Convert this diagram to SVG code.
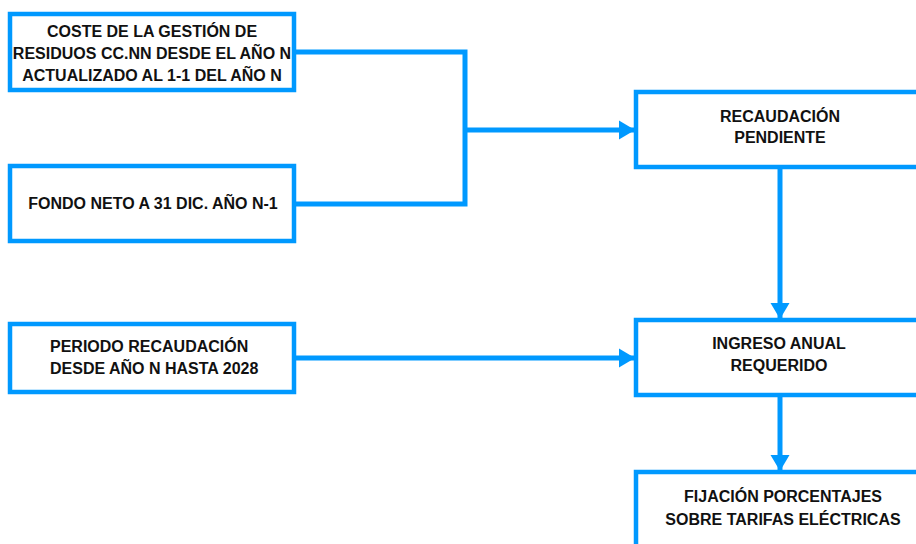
<svg xmlns="http://www.w3.org/2000/svg" width="916" height="544" viewBox="0 0 916 544">
<style>
.box{fill:#fff;stroke:#0099ff;stroke-width:4.5}
.t{font-family:"Liberation Sans",Arial,sans-serif;font-weight:bold;font-size:16px;fill:#111}
.c{text-anchor:middle}
.ln{fill:none;stroke:#0099ff;stroke-width:5}
</style>
<defs>
<marker id="ah" markerUnits="userSpaceOnUse" markerWidth="17" markerHeight="20" refX="16" refY="10" orient="auto">
<path d="M0,0.5 L16,10 L0,19.5 z" fill="#0099ff"/>
</marker>
</defs>
<rect width="916" height="544" fill="#fff"/>
<g id="connectors">
<path class="ln" d="M296,52 H465 V204 H296"/>
<path class="ln" d="M465,130 H635" marker-end="url(#ah)"/>
<path class="ln" d="M780,169 V319" marker-end="url(#ah)"/>
<path class="ln" d="M296,358 H635" marker-end="url(#ah)"/>
<path class="ln" d="M780,397 V471" marker-end="url(#ah)"/>
</g>
<g id="coste">
<rect class="box" x="10" y="14" width="284" height="76"/>
<text class="t c" x="152" y="37">COSTE DE LA GESTIÓN DE</text>
<text class="t c" x="152" y="59">RESIDUOS CC.NN DESDE EL AÑO N</text>
<text class="t c" x="152" y="81">ACTUALIZADO AL 1-1 DEL AÑO N</text>
</g>
<g id="fondo">
<rect class="box" x="10" y="166" width="284" height="75"/>
<text class="t c" x="153" y="209">FONDO NETO A 31 DIC. AÑO N-1</text>
</g>
<g id="periodo">
<rect class="box" x="10" y="324" width="284" height="68"/>
<text class="t" x="50" y="352">PERIODO RECAUDACIÓN</text>
<text class="t" x="50" y="374">DESDE AÑO N HASTA 2028</text>
</g>
<g id="recaudacion">
<rect class="box" x="636" y="92" width="288" height="75"/>
<text class="t c" x="780" y="122">RECAUDACIÓN</text>
<text class="t c" x="780" y="143">PENDIENTE</text>
</g>
<g id="ingreso">
<rect class="box" x="636" y="320" width="288" height="75"/>
<text class="t c" x="779" y="349">INGRESO ANUAL</text>
<text class="t c" x="779" y="371">REQUERIDO</text>
</g>
<g id="fijacion">
<rect class="box" x="636" y="472" width="288" height="100"/>
<text class="t c" x="783" y="502">FIJACIÓN PORCENTAJES</text>
<text class="t c" x="783" y="525">SOBRE TARIFAS ELÉCTRICAS</text>
</g>
</svg>
